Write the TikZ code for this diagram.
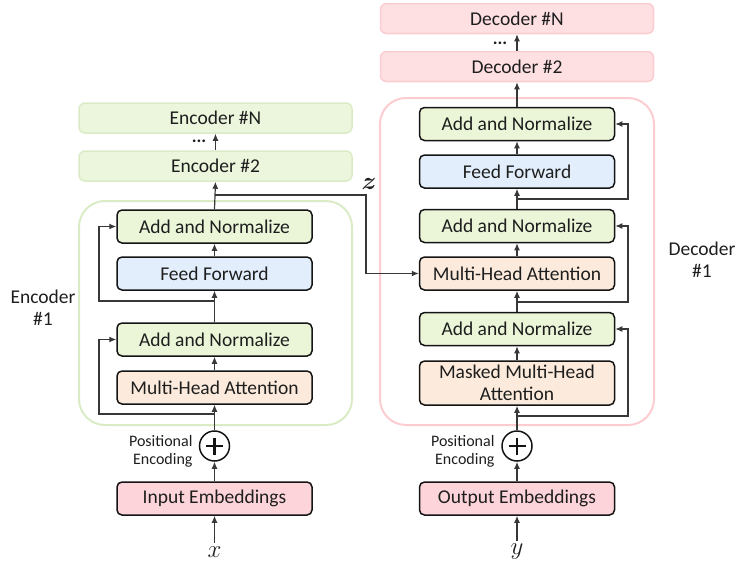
\documentclass[tikz,border=0pt]{standalone}
\usepackage{fontspec}
\setmainfont{Carlito}
\usetikzlibrary{arrows.meta}
\definecolor{ANfill}{RGB}{235,246,217}
\definecolor{FFfill}{RGB}{226,238,251}
\definecolor{MHfill}{RGB}{252,235,220}
\definecolor{EMfill}{RGB}{253,212,217}
\definecolor{EncFill}{RGB}{236,246,220}
\definecolor{EncLine}{RGB}{218,235,198}
\definecolor{DecFill}{RGB}{254,223,226}
\definecolor{DecLine}{RGB}{252,204,209}
\definecolor{boxline}{RGB}{20,20,20}
\definecolor{conn}{RGB}{55,55,55}
\definecolor{txt}{RGB}{30,30,30}
\begin{document}
\begin{tikzpicture}[x=1pt,y=-1pt,
  every node/.style={text=txt},
  layer/.style={draw=boxline,line width=1.5pt,rounded corners=5pt,minimum width=195pt,minimum height=33pt,inner sep=0pt,font=\fontsize{19.5}{23}\selectfont,align=center},
  an/.style={layer,fill=ANfill},
  ff/.style={layer,fill=FFfill},
  mh/.style={layer,fill=MHfill},
  em/.style={layer,fill=EMfill},
  enc/.style={draw=EncLine,fill=EncFill,line width=1.5pt,rounded corners=6pt,minimum width=273pt,minimum height=30pt,inner sep=0pt,font=\fontsize{19.5}{23}\selectfont},
  dec/.style={draw=DecLine,fill=DecFill,line width=1.5pt,rounded corners=6pt,minimum width=273pt,minimum height=30pt,inner sep=0pt,font=\fontsize{19.5}{23}\selectfont},
  cont/.style={line width=2pt,rounded corners=26pt},
  arr/.style={draw=conn,line width=1.2pt,-{Latex[length=7pt,width=6pt]}},
  plus/.style={circle,draw=boxline,line width=1.5pt,fill=white,minimum size=30pt,inner sep=0pt},
  lbl/.style={font=\fontsize{19.5}{22}\selectfont,align=center},
  pe/.style={font=\fontsize{16}{20}\selectfont,align=right,anchor=east},
  var/.style={font=\fontsize{23}{24}\selectfont},
  bvar/.style={font=\fontsize{23}{24}\selectfont\boldmath},
  dots/.style={font=\fontsize{18}{20}\selectfont\bfseries}
]
\useasboundingbox (0,0) rectangle (736,570);

% ---------- Encoder ----------
\draw[cont,draw=EncLine] (79,201) rectangle (352,425);
\node[enc] (encN) at (215.5,118) {Encoder \#N};
\node[enc] (enc2) at (215.5,166) {Encoder \#2};
\node[an] (ean2) at (214.5,226.5) {Add and Normalize};
\node[ff] (eff) at (214.5,273.5) {Feed Forward};
\node[an] (ean1) at (214.5,339.5) {Add and Normalize};
\node[mh] (emh) at (214.5,387.5) {Multi-Head Attention};
\node[plus] (eplus) at (214.5,446) {};
\draw[line width=2.6pt,boxline] ([xshift=-8.5pt]eplus.center) -- ([xshift=8.5pt]eplus.center) ([yshift=-8.5pt]eplus.center) -- ([yshift=8.5pt]eplus.center);
\node[em] (eemb) at (214.5,498.5) {Input Embeddings};
\node[var] (xin) at (214.5,552) {$x$};
\node[pe] (epe) at (196,451) {Positional\\[-2pt]Encoding};
\node[lbl] (elbl) at (43,308) {Encoder\\\#1};
\node[dots] (edots) at (199,141) {...};

\coordinate (er1) at (214.5,414);
\coordinate (er2) at (214.5,301);
\coordinate (zb) at (214.5,195);
\coordinate (zc) at (366,195);

\draw[arr] (xin.north) -- (eemb.south);
\draw[arr] (eemb.north) -- (eplus.south);
\draw[arr] (eplus.north) -- (emh.south);
\draw[arr] (er1) -- (99,414) |- (ean1.west);
\draw[arr] (emh.north) -- (ean1.south);
\draw[arr] (ean1.north) -- (eff.south);
\draw[arr] (er2) -- (99,301) |- (ean2.west);
\draw[arr] (eff.north) -- (ean2.south);
\draw[arr] (ean2.north) -- (enc2.south);
\draw[arr] (enc2.north) -- (encN.south);

% ---------- Decoder ----------
\draw[cont,draw=DecLine] (380,98) rectangle (654,425);
\node[dec] (decN) at (517,18.5) {Decoder \#N};
\node[dec] (dec2) at (517,66.5) {Decoder \#2};
\node[an] (dan3) at (517,124) {Add and Normalize};
\node[ff] (dff) at (517,171.5) {Feed Forward};
\node[an] (dan2) at (517,226) {Add and Normalize};
\node[mh] (dmh) at (517,273.5) {Multi-Head Attention};
\node[an] (dan1) at (517,329) {Add and Normalize};
\node[mh,minimum height=44pt] (dmm) at (517,383) {Masked Multi-Head\\[-1pt]Attention};
\node[plus] (dplus) at (517,446) {};
\draw[line width=2.6pt,boxline] ([xshift=-8.5pt]dplus.center) -- ([xshift=8.5pt]dplus.center) ([yshift=-8.5pt]dplus.center) -- ([yshift=8.5pt]dplus.center);
\node[em] (demb) at (517,498.5) {Output Embeddings};
\node[var] (yin) at (517,552) {$y$};
\node[pe] (dpe) at (498,451) {Positional\\[-2pt]Encoding};
\node[lbl] (dlbl) at (702,260) {Decoder\\\#1};
\node[dots] (ddots) at (500,43) {...};

\coordinate (dr1) at (517,416);
\coordinate (dr2) at (517,302);
\coordinate (dr3) at (517,199);

\draw[arr] (yin.north) -- (demb.south);
\draw[arr] (demb.north) -- (dplus.south);
\draw[arr] (dplus.north) -- (dmm.south);
\draw[arr] (dr1) -- (628,416) |- (dan1.east);
\draw[arr] (dmm.north) -- (dan1.south);
\draw[arr] (dan1.north) -- (dmh.south);
\draw[arr] (dr2) -- (628,302) |- (dan2.east);
\draw[arr] (dmh.north) -- (dan2.south);
\draw[arr] (dan2.north) -- (dff.south);
\draw[arr] (dr3) -- (628,199) |- (dan3.east);
\draw[arr] (dff.north) -- (dan3.south);
\draw[arr] (dan3.north) -- (dec2.south);
\draw[arr] (dec2.north) -- (decN.south);

% ---------- z connection ----------
\draw[arr] (zb) -- (zc) |- (dmh.west);
\node[bvar] (zlbl) at (369,184) {$z$};
\end{tikzpicture}
\end{document}
